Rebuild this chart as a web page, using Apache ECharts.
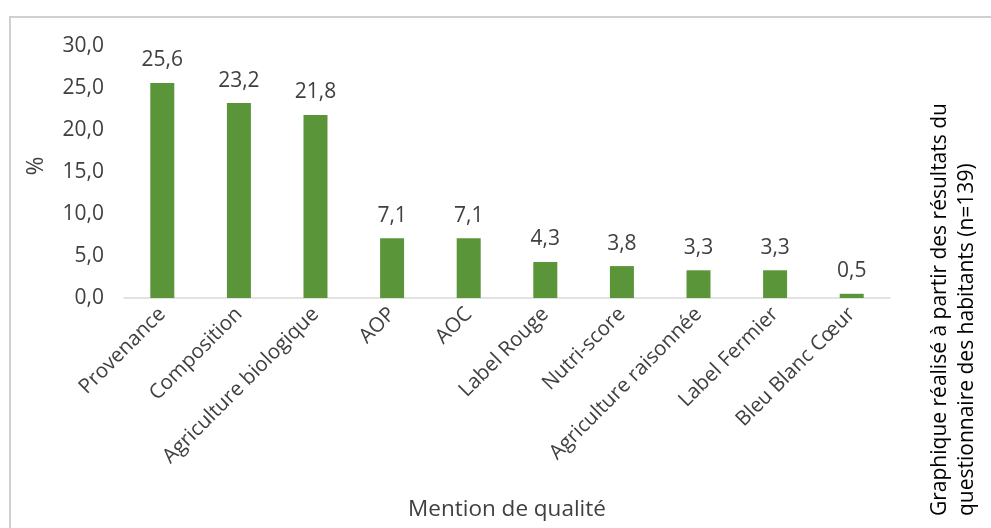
<!DOCTYPE html>
<html><head><meta charset="utf-8">
<script src="https://cdn.jsdelivr.net/npm/echarts@6/dist/echarts.min.js"></script>
<style>html,body{margin:0;padding:0;background:#fff}#c{width:991px;height:528px}</style>
</head><body><div id="c"></div>
<script>
const categories = ['Provenance','Composition','Agriculture biologique','AOP','AOC','Label Rouge','Nutri-score','Agriculture raisonnée','Label Fermier','Bleu Blanc Cœur'];
const values = [25.6, 23.2, 21.8, 7.1, 7.1, 4.3, 3.8, 3.3, 3.3, 0.5];
const yTicks = [0, 5, 10, 15, 20, 25, 30];
const note1 = 'Graphique réalisé à partir des résultats du';
const note2 = 'questionnaire des habitants (n=139)';
const fmt = v => v.toFixed(1).replace('.', ',');
const FONT = 'Open Sans';
const TXT = '#404040';
const chart = echarts.init(document.getElementById('c'), null, {renderer:'canvas'});
chart.setOption({
  animation: false,
  textStyle: {fontFamily: FONT},
  grid: {left: 124, right: 101, top: 46, bottom: 230},
  xAxis: {
    type: 'category', data: categories,
    name: 'Mention de qualité', nameLocation: 'middle', nameGap: 200,
    nameTextStyle: {fontSize: 22.5, color: TXT, fontFamily: FONT},
    axisLine: {lineStyle: {color: '#D9D9D9', width: 1.5}},
    axisTick: {show: false},
    axisLabel: {rotate: 45, fontSize: 20.5, color: TXT, fontFamily: FONT, margin: 13, interval: 0}
  },
  yAxis: {
    type: 'value', min: yTicks[0], max: yTicks[yTicks.length-1], interval: 5,
    name: '%', nameLocation: 'middle', nameGap: 76, nameRotate: 90,
    nameTextStyle: {fontSize: 23, color: TXT, fontFamily: FONT, padding: [0, 0, 0, 12]},
    axisLine: {show: false}, axisTick: {show: false}, splitLine: {show: false},
    axisLabel: {formatter: v => fmt(v), fontSize: 21, color: TXT, fontFamily: FONT, margin: 20}
  },
  series: [{
    type: 'bar', data: values, barWidth: 24,
    itemStyle: {color: '#5B9539'},
    label: {show: true, position: 'top', distance: 12, formatter: p => fmt(p.value), fontSize: 21, color: TXT, fontFamily: FONT}
  }],
  graphic: [
    {type: 'rect', shape: {x: 10, y: 17, width: 1000, height: 600}, style: {fill: 'none', stroke: '#D0D0D0', lineWidth: 2}, silent: true},
    {type: 'text', x: 940, y: 516, rotation: Math.PI/2, style: {text: note1, fontSize: 21, fill: '#000', fontFamily: FONT, textAlign: 'left', textVerticalAlign: 'middle'}},
    {type: 'text', x: 967, y: 516, rotation: Math.PI/2, style: {text: note2, fontSize: 21, fill: '#000', fontFamily: FONT, textAlign: 'left', textVerticalAlign: 'middle'}}
  ]
});
</script></body></html>
